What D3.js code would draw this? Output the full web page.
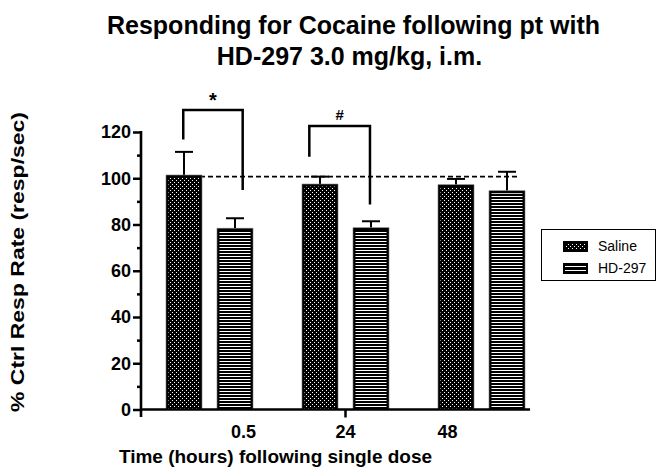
<!DOCTYPE html>
<html>
<head>
<meta charset="utf-8">
<script src="https://cdn.jsdelivr.net/npm/d3@7"></script>
<style>
  html, body { margin: 0; padding: 0; background: #fff; }
  svg { display: block; }
  text { font-family: "Liberation Sans", Arial, Helvetica, sans-serif; fill: #000; }
</style>
</head>
<body>
<svg id="chart" width="667" height="468"></svg>
<script>
// ---- data ----
const timeLabels = ["0.5", "24", "48"];          // hours after single dose
const seriesNames = ["Saline", "HD-297"];
const salineMean = [101.4, 97.5, 97.2];
const salineSem  = [10.0, 3.2, 2.5];
const hdMean     = [78.4, 78.6, 94.6];
const hdSem      = [4.3, 2.8, 8.2];
const controlLevel = 100.7;                       // dashed control reference
const yTicks = [0, 20, 40, 60, 80, 100, 120];
const yMinorTicks = [10, 30, 50, 70, 90, 110];

// significance brackets (x in group units, y in % units)
const sigSymbols = ["*", "#"];
const sigLeftX   = [-0.193, 0.734];
const sigRightX  = [0.244, 1.180];
const sigTopY    = [129.5, 122.6];
const sigLeftY   = [116.8, 109.3];
const sigRightY  = [94.9, 88.7];

// ---- layout ----
const svg = d3.select("#chart");
const font = '"Liberation Sans", Arial, Helvetica, sans-serif';

const y = d3.scaleLinear().domain([0, 120]).range([409.5, 132]);
const x = d3.scaleLinear().domain([0, 2]).range([209.5, 481.5]);  // group centres
const seriesOffset = d3.scalePoint().domain(seriesNames).range([-0.1875, 0.1875]);
const barW = 36;
const labelX = d3.scalePoint().domain(timeLabels).range([243, 447]);

// ---- patterns ----
const defs = svg.append("defs");
const dots = defs.append("pattern").attr("id", "dots")
  .attr("patternUnits", "userSpaceOnUse").attr("width", 4).attr("height", 4);
dots.append("rect").attr("width", 4).attr("height", 4).attr("fill", "#000");
dots.append("rect").attr("x", 0).attr("y", 0).attr("width", 1).attr("height", 1).attr("fill", "#fff");
dots.append("rect").attr("x", 2).attr("y", 2).attr("width", 1).attr("height", 1).attr("fill", "#fff");

const stripes = defs.append("pattern").attr("id", "stripes")
  .attr("patternUnits", "userSpaceOnUse").attr("width", 6).attr("height", 3);
stripes.append("rect").attr("width", 6).attr("height", 3).attr("fill", "#000");
stripes.append("rect").attr("x", 0).attr("y", 1).attr("width", 6).attr("height", 1).attr("fill", "#fff");

const patternFor = { "Saline": "url(#dots)", "HD-297": "url(#stripes)" };

// ---- title ----
const title = svg.append("text")
  .attr("text-anchor", "middle")
  .style("font-size", "25px").style("font-weight", "bold");
title.append("tspan").attr("x", 353.5).attr("y", 34).text("Responding for Cocaine following pt with");
title.append("tspan").attr("x", 349.5).attr("y", 64.5).text("HD-297 3.0 mg/kg, i.m.");

// ---- control reference line ----
svg.append("line")
  .attr("x1", x(seriesOffset("Saline"))).attr("x2", x(2.283))
  .attr("y1", y(controlLevel)).attr("y2", y(controlLevel))
  .attr("stroke", "#000").attr("stroke-width", 1.6)
  .attr("stroke-dasharray", "5,3");

// ---- bars ----
const rows = [];
timeLabels.forEach((t, i) => {
  rows.push({ g: i, s: "Saline", v: salineMean[i], e: salineSem[i] });
  rows.push({ g: i, s: "HD-297", v: hdMean[i], e: hdSem[i] });
});

const bars = svg.append("g").selectAll("g").data(rows).join("g");
bars.append("line")   // upper error bar
  .attr("x1", d => x(d.g + seriesOffset(d.s))).attr("x2", d => x(d.g + seriesOffset(d.s)))
  .attr("y1", d => y(d.v)).attr("y2", d => y(d.v + d.e))
  .attr("stroke", "#000").attr("stroke-width", 2);
bars.append("line")
  .attr("x1", d => x(d.g + seriesOffset(d.s)) - 9).attr("x2", d => x(d.g + seriesOffset(d.s)) + 9)
  .attr("y1", d => y(d.v + d.e)).attr("y2", d => y(d.v + d.e))
  .attr("stroke", "#000").attr("stroke-width", 2);
bars.append("rect")
  .attr("x", d => x(d.g + seriesOffset(d.s)) - barW / 2)
  .attr("y", d => y(d.v))
  .attr("width", barW).attr("height", d => y(0) - y(d.v))
  .attr("fill", "#000").attr("stroke", "#777").attr("stroke-width", 0.6);
bars.append("rect")
  .attr("x", d => x(d.g + seriesOffset(d.s)) - barW / 2 + 2.5)
  .attr("y", d => y(d.v) + 2.5)
  .attr("width", barW - 5).attr("height", d => Math.max(0, y(0) - y(d.v) - 2.5))
  .attr("fill", d => patternFor[d.s]);

// ---- significance brackets ----
const sig = svg.append("g").selectAll("g").data(sigSymbols).join("g");
sig.append("path")
  .attr("d", (s, i) => d3.line()([
    [x(sigLeftX[i]), y(sigLeftY[i])],
    [x(sigLeftX[i]), y(sigTopY[i])],
    [x(sigRightX[i]), y(sigTopY[i])],
    [x(sigRightX[i]), y(sigRightY[i])]
  ]))
  .attr("fill", "none").attr("stroke", "#000").attr("stroke-width", 2.5);
sig.append("text")
  .attr("x", (s, i) => x((sigLeftX[i] + sigRightX[i]) / 2))
  .attr("y", (s, i) => y(sigTopY[i]) - (s === "*" ? 3 : 6))
  .attr("text-anchor", "middle")
  .style("font-size", (s) => s === "*" ? "20px" : "15px")
  .style("font-weight", "bold")
  .text(s => s);

// ---- y axis ----
const yAxis = svg.append("g").attr("transform", "translate(141,0)")
  .call(d3.axisLeft(y).tickValues(yTicks).tickSize(8).tickPadding(2).tickSizeOuter(0));
yAxis.select(".domain").remove();
yAxis.selectAll(".tick line").attr("stroke", "#000").attr("stroke-width", 2.5);
yAxis.selectAll(".tick text")
  .style("font-family", font).style("font-size", "18px").style("font-weight", "bold").attr("fill", "#000");
const yMinor = svg.append("g").attr("transform", "translate(141,0)")
  .call(d3.axisLeft(y).tickValues(yMinorTicks).tickSize(4).tickFormat(""));
yMinor.select(".domain").remove();
yMinor.selectAll(".tick line").attr("stroke", "#000").attr("stroke-width", 2.5);
svg.append("line").attr("x1", 141).attr("x2", 141)
  .attr("y1", y(120) - 1).attr("y2", 417)
  .attr("stroke", "#000").attr("stroke-width", 2.6);

// ---- x axis ----
svg.append("line").attr("x1", 140).attr("x2", x(2.357))
  .attr("y1", y(0)).attr("y2", y(0))
  .attr("stroke", "#000").attr("stroke-width", 2.6);
const xAxis = svg.append("g").attr("transform", `translate(0,${y(0)})`)
  .call(d3.axisBottom(labelX).tickSize(8).tickPadding(8).tickSizeOuter(0));
xAxis.select(".domain").remove();
xAxis.selectAll(".tick line").attr("stroke", "#000").attr("stroke-width", 2.5)
  .attr("opacity", d => d === "24" ? 1 : 0);
xAxis.selectAll(".tick text")
  .style("font-family", font).style("font-size", "18px").style("font-weight", "bold").attr("fill", "#000");

// ---- axis titles ----
svg.append("text")
  .attr("x", 275.5).attr("y", 463)
  .attr("text-anchor", "middle")
  .style("font-size", "19px").style("font-weight", "bold")
  .text("Time (hours) following single dose");
svg.append("text")
  .attr("transform", "translate(24,262) rotate(-90)")
  .attr("text-anchor", "middle")
  .attr("textLength", 300).attr("lengthAdjust", "spacingAndGlyphs")
  .style("font-size", "18px").style("font-weight", "bold")
  .text("% Ctrl Resp Rate (resp/sec)");

// ---- legend ----
const legend = svg.append("g");
legend.append("rect").attr("x", 541.5).attr("y", 229.5).attr("width", 114).attr("height", 51)
  .attr("fill", "#fff").attr("stroke", "#000").attr("stroke-width", 1);
const legY = d3.scalePoint().domain(seriesNames).range([241, 263]);
const item = legend.selectAll("g").data(seriesNames).join("g");
item.append("rect").attr("x", 563).attr("y", d => legY(d)).attr("width", 25).attr("height", 11)
  .attr("fill", "#000");
item.filter(d => d === "Saline").append("rect")
  .attr("x", 565).attr("y", d => legY(d) + 2).attr("width", 21).attr("height", 7)
  .attr("fill", "url(#dots)");
item.filter(d => d === "HD-297").selectAll(".ln").data([3, 7]).join("rect")
  .attr("x", 565).attr("y", o => legY("HD-297") + o).attr("width", 21).attr("height", 1)
  .attr("fill", "#fff");
item.append("text").attr("x", 598).attr("y", d => legY(d) + 10)
  .style("font-size", "14px").text(d => d);
</script>
</body>
</html>
